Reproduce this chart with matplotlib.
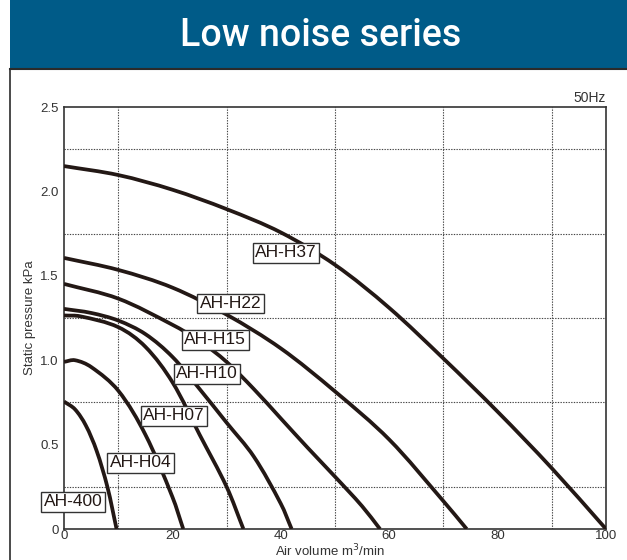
import numpy as np
import matplotlib
matplotlib.use('Agg')
from matplotlib import pyplot as plt
from matplotlib.patches import Rectangle, PathPatch
from matplotlib.path import Path
from matplotlib.lines import Line2D

# (air volume m3/min, static pressure kPa)
h37_x = [0, 10, 20, 30, 40, 50, 60, 70, 80, 90, 100]
h37_y = [2.15, 2.097, 2.01, 1.895, 1.757, 1.565, 1.31, 1.01, 0.695, 0.36, 0]

h22_x = [0, 10, 20, 30, 40, 50, 60, 70, 74.3]
h22_y = [1.606, 1.535, 1.43, 1.27, 1.07, 0.815, 0.53, 0.165, 0]

h15_x = [0, 10, 20, 25, 30, 35, 40, 45, 50, 55, 58.3]
h15_y = [1.452, 1.365, 1.21, 1.115, 0.99, 0.83, 0.655, 0.48, 0.31, 0.135, 0]

h10_x = [0, 5, 10, 15, 20, 25, 30, 35, 40, 42]
h10_y = [1.304, 1.28, 1.235, 1.155, 1.02, 0.83, 0.63, 0.43, 0.15, 0]

h07_x = [0, 3, 10, 15, 20, 25, 30, 33.1]
h07_y = [1.265, 1.26, 1.196, 1.08, 0.87, 0.56, 0.25, 0]

h04_x = [0, 2, 5, 10, 15, 20, 22]
h04_y = [0.99, 1.00, 0.96, 0.82, 0.56, 0.19, 0]

a400_x = [0, 2, 4, 6, 8, 9.7]
a400_y = [0.755, 0.71, 0.615, 0.465, 0.25, 0]

series_x = [h37_x, h22_x, h15_x, h10_x, h07_x, h04_x, a400_x]
series_y = [h37_y, h22_y, h15_y, h10_y, h07_y, h04_y, a400_y]
names = ['AH-H37', 'AH-H22', 'AH-H15', 'AH-H10', 'AH-H07', 'AH-H04', 'AH-400']
label_x = [41, 30.7, 27.9, 26.4, 20.3, 14.1, 1.7]
label_y = [1.637, 1.336, 1.12, 0.92, 0.67, 0.393, 0.16]

x_ticks = [0, 20, 40, 60, 80, 100]
y_ticks = [0, 0.5, 1.0, 1.5, 2.0, 2.5]
y_tick_labels = ['0', '0.5', '1.0', '1.5', '2.0', '2.5']

W, H = 627, 560
SX, SY = 5.42, 169.2   # rough px per data unit, only to shape the curve handles


def smooth_path(xs, ys):
    # bezier through the read points, tangents from the neighbours
    p = np.column_stack([np.array(xs) * SX, np.array(ys) * SY])
    n = len(p)
    d = np.zeros_like(p)
    for i in range(n):
        a = p[max(i - 1, 0)]
        b = p[min(i + 1, n - 1)]
        v = b - a
        d[i] = v / np.hypot(*v)
    verts = [p[0]]
    codes = [Path.MOVETO]
    for i in range(n - 1):
        L = np.hypot(*(p[i + 1] - p[i])) / 3
        verts += [p[i] + d[i] * L, p[i + 1] - d[i + 1] * L, p[i + 1]]
        codes += [Path.CURVE4] * 3
    verts = np.array(verts) / [SX, SY]
    return Path(verts, codes)


fig = plt.figure(figsize=(W/100, H/100), dpi=100)
fig.patch.set_facecolor('white')

# title banner
fig.patches.append(Rectangle((10/W, 1-69/H), 1-10/W, 69/H, transform=fig.transFigure,
                             facecolor='#005b88', edgecolor='none', zorder=0))
fig.lines.append(Line2D([10/W, 1], [1-69/H, 1-69/H], transform=fig.transFigure,
                        color='#2b2b2b', lw=1.5))
fig.lines.append(Line2D([10/W, 10/W], [0, 1-69/H], transform=fig.transFigure,
                        color='#2b2b2b', lw=1.2))
fig.text(321/W, 1-35/H, 'Low noise series', color='white', fontsize=27,
         family='Roboto', weight='medium', ha='center', va='center')

ax = fig.add_axes([64/W, 1-529/H, (606-64)/W, (529-107)/H])
ink = '#231815'
for xs, ys in zip(series_x, series_y):
    ax.add_patch(PathPatch(smooth_path(xs, ys), facecolor='none', edgecolor=ink,
                           lw=2.7, capstyle='butt', zorder=3))

for name, lx, ly in zip(names, label_x, label_y):
    ax.text(lx, ly, name, ha='center', va='center', fontsize=12.5,
            family='Liberation Sans', color=ink, zorder=5,
            bbox=dict(boxstyle='square,pad=0.14', facecolor='white',
                      edgecolor='#333333', lw=1.0))

ax.set_xlim(0, 100)
ax.set_ylim(0, 2.5)
ax.set_xticks(x_ticks)
ax.set_yticks(y_ticks)
ax.set_yticklabels(y_tick_labels)
ax.set_xticks(np.arange(0, 101, 10), minor=True)
ax.set_yticks(np.arange(0, 2.51, 0.25), minor=True)
ax.grid(which='minor', color='#444444', ls=(0, (1.2, 1.2)), lw=0.8)
ax.tick_params(which='both', length=0, labelsize=9.5, labelcolor='#333333')
ax.tick_params(axis='x', pad=1)
ax.tick_params(axis='y', pad=4)
for lab in ax.get_xticklabels() + ax.get_yticklabels():
    lab.set_family('Liberation Sans')
for s in ax.spines.values():
    s.set_color('#333333')
    s.set_linewidth(1.2)

ax.text(1.0, 1.005, '50Hz', transform=ax.transAxes, ha='right', va='bottom',
        fontsize=10, family='Liberation Sans', color='#333333')
fig.text(330/W, 1-551/H, 'Air volume m$^3$/min', fontsize=9.5, family='Liberation Sans',
         color='#333333', ha='center', va='center')
ax.set_ylabel('Static pressure kPa', fontsize=9.5, family='Liberation Sans',
              color='#333333', labelpad=3)

fig.savefig('out.png', dpi=100)
